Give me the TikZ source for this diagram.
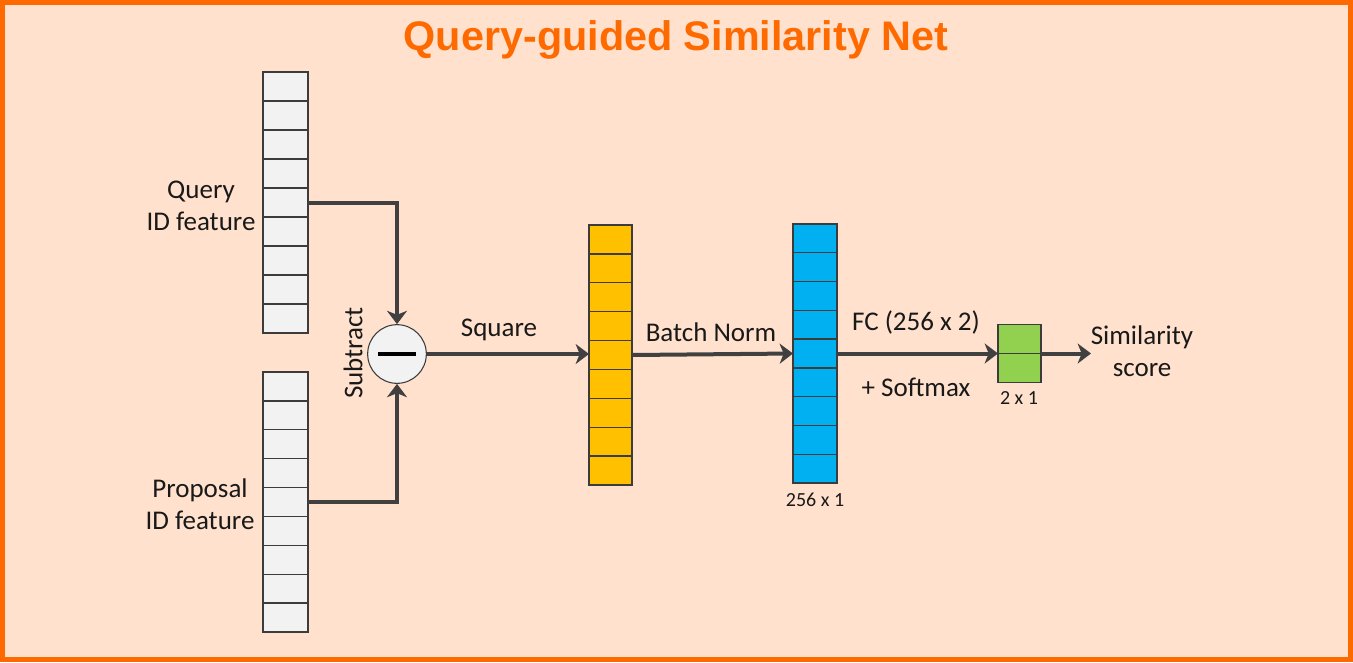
\documentclass[tikz,border=0pt]{standalone}
\usepackage{fontspec}
\setmainfont{Carlito}
\newfontfamily\titlefont{Liberation Sans}
\usetikzlibrary{arrows.meta,calc}
\definecolor{bgc}{HTML}{FFE1CD}
\definecolor{framec}{HTML}{FF6A00}
\definecolor{titlec}{HTML}{FF6A00}
\definecolor{cellgrey}{HTML}{F2F2F2}
\definecolor{celledge}{HTML}{3C3C3C}
\definecolor{yellowc}{HTML}{FFC000}
\definecolor{bluec}{HTML}{00B0F0}
\definecolor{greenc}{HTML}{92D050}
\definecolor{arrowc}{HTML}{404040}
\tikzset{
  vecbox/.style={draw=celledge, line width=1pt, inner sep=0pt, outer sep=0pt},
  cellline/.style={draw=celledge, line width=1pt},
  conn/.style={draw=arrowc, line width=3pt, -{Stealth[length=10pt,width=15pt,inset=3pt]}},
  lbl/.style={inner sep=0pt, font=\fontsize{20.25pt}{24pt}\selectfont, align=center, text=black!90},
  small/.style={inner sep=0pt, font=\fontsize{15pt}{18pt}\selectfont, text=black!90},
}
\newcommand{\cells}[2]{%
  \foreach \i in {1,...,#2}{%
    \pgfmathsetmacro{\fr}{\i/(#2+1)}%
    \draw[cellline] ($(#1.north west)!\fr!(#1.south west)$) -- ($(#1.north east)!\fr!(#1.south east)$);
  }%
}
\begin{document}
\begin{tikzpicture}[x=0.75pt,y=-0.75pt]
\fill[bgc] (0,0) rectangle (1353,662);
\draw[framec, line width=3.75pt] (2.5,2.5) rectangle (1350.5,659.5);
\useasboundingbox (0,0) rectangle (1353,662);

\node[inner sep=0pt, text=titlec, font=\titlefont\bfseries\fontsize{31pt}{36pt}\selectfont] (title) at (676,40) {Query-guided Similarity Net};

% vectors
\node[vecbox, fill=cellgrey, minimum width=33.75pt, minimum height=195.75pt] (q) at (285.5,202.5) {};
\cells{q}{8}
\node[vecbox, fill=cellgrey, minimum width=33.75pt, minimum height=195pt] (p) at (285.5,502) {};
\cells{p}{8}
\node[vecbox, fill=yellowc, minimum width=32.25pt, minimum height=195pt] (y) at (610.5,355) {};
\cells{y}{8}
\node[vecbox, fill=bluec, minimum width=33pt, minimum height=194.25pt] (b) at (815,353.5) {};
\cells{b}{8}
\node[vecbox, fill=greenc, minimum width=32.25pt, minimum height=43.5pt] (g) at (1019.5,353.5) {};
\cells{g}{1}

% subtract circle
\node[circle, draw=celledge, line width=0.8pt, fill=cellgrey, minimum size=44pt, inner sep=0pt] (c) at (397,354) {};
\draw[black, line width=3pt] ($(c.center)+(-19,0)$) -- ($(c.center)+(19,0)$);

% labels
\node[lbl] (ql) at (201,206) {Query\\ID feature};
\node[lbl] (pl) at (200,504) {Proposal\\ID feature};
\node[lbl, rotate=90] (sub) at (353,353) {Subtract};
\node[lbl] (sq) at (499,330) {Square};
\node[lbl] (bn) at (711,332) {Batch Norm};
\node[lbl] (fc) at (916,322) {FC (256 x 2)};
\node[lbl] (sm) at (916,387) {+ Softmax};
\node[small] (bs) at (815,500) {256 x 1};
\node[small] (gs) at (1019,398) {2 x 1};
\node[lbl] (ss) at (1142,351) {Similarity\\score};

% connectors
\coordinate (out) at (1091,353.5);
\draw[conn] (q.east) -| (c.north);
\draw[conn] (p.east) -| (c.south);
\draw[conn] (c.east) -- (c.east -| y.west);
\draw[conn] (y.east) -- (b.west);
\draw[conn] (b.east) -- (g.west);
\draw[conn] (g.east) -- (out);
\end{tikzpicture}
\end{document}
